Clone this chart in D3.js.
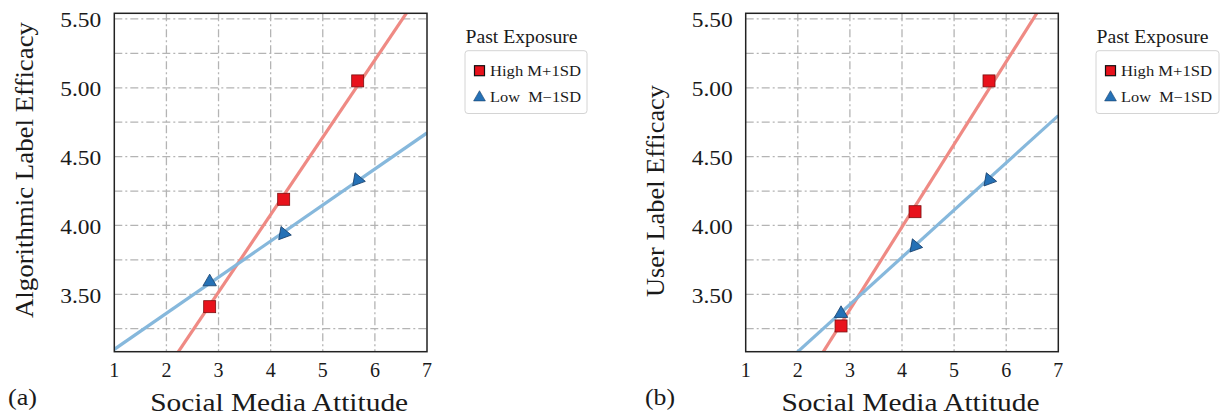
<!DOCTYPE html>
<html><head><meta charset="utf-8">
<script src="https://cdn.jsdelivr.net/npm/d3@7"></script>
<style>body{margin:0;background:#fff}svg{display:block}text{font-family:"Liberation Serif","Times New Roman",serif;fill:#1a1a1a}</style>
</head><body>
<svg id="c" width="1224" height="417"></svg>
<script>
// ---- data ----
const xLevels = [2.83, 4.25, 5.67];           // Social Media Attitude (M-1SD, M, M+1SD)
const panelLabels = ["(a)", "(b)"];
const yTitles = ["Algorithmic Label Efficacy", "User Label Efficacy"];
const xTitle = "Social Media Attitude";
const legendTitle = "Past Exposure";
const seriesNames = ["High M+1SD", "Low  M\u22121SD"];
const highA = [3.41, 4.19, 5.05];
const lowA  = [3.59, 3.94, 4.33];
const highB = [3.27, 4.10, 5.05];
const lowB  = [3.36, 3.85, 4.33];
// fitted lines: [intercept, slope]
const fitHighA = [1.83, 0.562];
const fitLowA  = [2.838, 0.262];
const fitHighB = [1.589, 0.600];
const fitLowB  = [2.397, 0.343];
const xTicks = [1, 2, 3, 4, 5, 6, 7];
const yTickLabels = [3.50, 4.00, 4.50, 5.00, 5.50];
const yGrid = [3.25, 3.50, 3.75, 4.00, 4.25, 4.50, 4.75, 5.00, 5.25, 5.50];
const xGrid = [2, 3, 4, 5, 6];

const svg = d3.select("#c");
const panels = [
  {left:114.3, right:427, label:panelLabels[0], labelX:8, labelW:29, ytitle:yTitles[0], ytLen:296, ytx:24, yty:170,
   high:highA, low:lowA, fh:fitHighA, fl:fitLowA, legX:465, legW:122},
  {left:745.7, right:1058.3, label:panelLabels[1], labelX:645, labelW:30, ytitle:yTitles[1], ytLen:212, ytx:655, yty:191,
   high:highB, low:lowB, fh:fitHighB, fl:fitLowB, legX:1096, legW:123}
];
const plotTop = 13.3, plotBottom = 351.7;
const redLine = "#ef8a84", blueLine = "#86b8dc";
const redFill = "#e8121c", redStroke = "#7a1010";
const blueFill = "#2571b6", blueStroke = "#173f6a";

panels.forEach((p, i) => {
  const x = d3.scaleLinear().domain([1, 7]).range([p.left, p.right]);
  const y = d3.scaleLinear().domain([3.083, 5.541]).range([plotBottom, plotTop]);
  const g = svg.append("g");
  const clipId = "clip" + i;
  svg.append("clipPath").attr("id", clipId).append("rect")
    .attr("x", p.left).attr("y", plotTop).attr("width", p.right - p.left).attr("height", plotBottom - plotTop);

  // grid
  g.selectAll(".hg").data(yGrid).join("line")
    .attr("x1", p.left).attr("x2", p.right).attr("y1", d => y(d)).attr("y2", d => y(d))
    .attr("stroke", "#b4b4b4").attr("stroke-width", 1.3).attr("stroke-dasharray", "8,3,2,3");
  g.selectAll(".vg").data(xGrid).join("line")
    .attr("y1", plotTop).attr("y2", plotBottom).attr("x1", d => x(d)).attr("x2", d => x(d))
    .attr("stroke", "#b4b4b4").attr("stroke-width", 1.3).attr("stroke-dasharray", "8,3,2,3");

  // fit lines
  const lg = g.append("g").attr("clip-path", `url(#${clipId})`);
  [[p.fh, redLine], [p.fl, blueLine]].forEach(([f, col]) => {
    lg.append("line")
      .attr("x1", x(1)).attr("y1", y(f[0] + f[1] * 1))
      .attr("x2", x(7)).attr("y2", y(f[0] + f[1] * 7))
      .attr("stroke", col).attr("stroke-width", 3.2);
  });

  // frame
  g.append("rect").attr("x", p.left).attr("y", plotTop).attr("width", p.right - p.left).attr("height", plotBottom - plotTop)
    .attr("fill", "none").attr("stroke", "#222").attr("stroke-width", 1.5);

  // markers
  const tri = d3.symbol().type(d3.symbolTriangle).size(78);
  g.selectAll(".sq").data(p.high).join("rect")
    .attr("x", (d, j) => x(xLevels[j]) - 6).attr("y", d => y(d) - 6)
    .attr("width", 12).attr("height", 12)
    .attr("fill", redFill).attr("stroke", redStroke).attr("stroke-width", 0.8);
  g.selectAll(".tr").data(p.low).join("path")
    .attr("d", tri())
    .attr("transform", (d, j) => `translate(${x(xLevels[j])},${y(d)}) rotate(${j === 0 ? 0 : 100})`)
    .attr("fill", blueFill).attr("stroke", blueStroke).attr("stroke-width", 0.8);

  // axes labels
  g.selectAll(".yt").data(yTickLabels).join("text")
    .attr("x", p.left - 13).attr("y", d => y(d) + 1).attr("dy", "0.35em")
    .attr("text-anchor", "end").attr("font-size", 21.5)
    .attr("textLength", 41).attr("lengthAdjust", "spacingAndGlyphs").text(d => d.toFixed(2));
  g.selectAll(".xt").data(xTicks).join("text")
    .attr("x", d => x(d)).attr("y", 377)
    .attr("text-anchor", "middle").attr("font-size", 20).text(d => d);

  g.append("text").attr("x", (p.left + p.right) / 2 + 8.5).attr("y", 411)
    .attr("text-anchor", "middle").attr("font-size", 26)
    .attr("textLength", 258).attr("lengthAdjust", "spacingAndGlyphs").text(xTitle);
  g.append("text").attr("transform", `translate(${p.ytx},${p.yty}) rotate(-90)`)
    .attr("dy", "0.35em").attr("text-anchor", "middle").attr("font-size", 25.5)
    .attr("textLength", p.ytLen).attr("lengthAdjust", "spacingAndGlyphs").text(p.ytitle);
  g.append("text").attr("x", p.labelX).attr("y", 405)
    .attr("font-size", 24).attr("textLength", p.labelW).attr("lengthAdjust", "spacingAndGlyphs").text(p.label);

  // legend
  const L = g.append("g");
  L.append("text").attr("x", p.legX + 0.5).attr("y", 43)
    .attr("font-size", 19).attr("textLength", 112).attr("lengthAdjust", "spacingAndGlyphs").text(legendTitle);
  L.append("rect").attr("x", p.legX).attr("y", 50.7).attr("width", p.legW).attr("height", 62.8)
    .attr("rx", 3).attr("fill", "#fff").attr("stroke", "#d4d4d4").attr("stroke-width", 1);
  L.append("rect").attr("x", p.legX + 9.5).attr("y", 65.7).attr("width", 10).attr("height", 10)
    .attr("fill", redFill).attr("stroke", "#111").attr("stroke-width", 1.2);
  L.append("path").attr("d", d3.symbol().type(d3.symbolTriangle).size(60)())
    .attr("transform", `translate(${p.legX + 14.5},${97.5})`)
    .attr("fill", blueFill).attr("stroke", blueStroke).attr("stroke-width", 0.6);
  L.selectAll(".lt").data(seriesNames).join("text")
    .attr("x", p.legX + 25).attr("y", (d, j) => 75.5 + j * 26.8)
    .attr("font-size", 14).attr("xml:space", "preserve").style("white-space", "pre")
    .attr("textLength", 91).attr("lengthAdjust", "spacingAndGlyphs").text(d => d);
});
</script>
</body></html>
